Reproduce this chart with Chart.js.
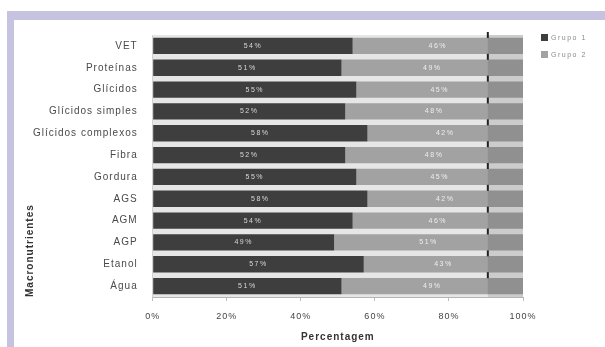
<!DOCTYPE html>
<html>
<head>
<meta charset="utf-8">
<script src="https://cdn.jsdelivr.net/npm/chart.js@4/dist/chart.umd.min.js"></script>
<style>
  html, body { margin: 0; padding: 0; background: #ffffff; }
  body { width: 605px; height: 347px; overflow: hidden; position: relative; }
  #frame {
    position: absolute; left: 7px; top: 11px; right: 0; bottom: 0;
    border-top: 9px solid #c6c3e0; border-left: 7px solid #c6c3e0;
    background: #ffffff;
  }
  #wrap { position: absolute; left: 0; top: 0; width: 591px; height: 327px; }
</style>
</head>
<body>
<div id="frame"><div id="wrap"><canvas id="c" width="591" height="327"></canvas></div></div>
<script>
// Macronutrient shares (%) for the two groups
const categories = ['VET', 'Proteínas', 'Glícidos', 'Glícidos simples', 'Glícidos complexos',
  'Fibra', 'Gordura', 'AGS', 'AGM', 'AGP', 'Etanol', 'Água'];
const grupo1 = [54, 51, 55, 52, 58, 52, 55, 58, 54, 49, 57, 51];
const grupo2 = [46, 49, 45, 48, 42, 48, 45, 42, 46, 51, 43, 49];
const seriesNames = ['Grupo 1', 'Grupo 2'];
const xTickValues = [0, 20, 40, 60, 80, 100];
const depthEdge = 90.5; // where the shaded back wall of the 3-D bars begins

const FONT = "'Liberation Sans', Arial, sans-serif";

// plot-area background, shaded back wall and small separators
const plotDecor = {
  id: 'plotDecor',
  beforeDraw(chart) {
    chart.ctx.letterSpacing = '1px';
  },
  beforeDatasetsDraw(chart) {
    const { ctx, chartArea: a } = chart;
    ctx.save();
    ctx.fillStyle = '#e6e6e6';
    ctx.fillRect(a.left, a.top, a.right - a.left, a.bottom - a.top);
    ctx.restore();
  },
  afterDatasetsDraw(chart) {
    const { ctx, chartArea: a } = chart;
    const xs = chart.scales.x, ys = chart.scales.y;
    const xe = xs.getPixelForValue(depthEdge);
    ctx.save();
    ctx.fillStyle = 'rgba(0,0,0,0.11)';
    ctx.fillRect(xe, a.top, a.right - xe, a.bottom - a.top);
    // separators in the gap above each bar
    const step = (a.bottom - a.top) / categories.length;
    ctx.fillStyle = '#222';
    categories.forEach((c, i) => {
      const yc = ys.getPixelForValue(i) - step / 2;
      ctx.fillRect(xe - 1, yc - 3, 2, 6);
    });
    // value labels inside segments
    ctx.letterSpacing = '1.5px';
    ctx.font = '7px ' + FONT;
    ctx.textAlign = 'center';
    ctx.textBaseline = 'middle';
    chart.data.datasets.forEach((ds, di) => {
      const meta = chart.getDatasetMeta(di);
      meta.data.forEach((bar, i) => {
        const p = bar.getProps(['x', 'y', 'base'], true);
        ctx.fillStyle = di === 0 ? '#d8d8d8' : '#eeeeee';
        ctx.fillText(ds.data[i] + '%', (p.x + p.base) / 2, p.y);
      });
    });
    ctx.restore();
  },
  afterDraw(chart) {
    // legend at the upper right
    const { ctx, chartArea: a } = chart;
    ctx.save();
    ctx.letterSpacing = '1.5px';
    ctx.font = '7px ' + FONT;
    ctx.textBaseline = 'middle';
    chart.data.datasets.forEach((ds, i) => {
      const y = a.top + 3 + i * 17;
      const x = a.right + 18;
      ctx.fillStyle = ds.backgroundColor;
      ctx.fillRect(x, y - 4, 7, 7);
      ctx.fillStyle = '#8a8a8a';
      ctx.fillText(ds.label, x + 10, y);
    });
    ctx.restore();
  }
};

new Chart(document.getElementById('c'), {
  type: 'bar',
  data: {
    labels: categories,
    datasets: [
      { label: seriesNames[0], data: grupo1, backgroundColor: '#3e3e3e', borderWidth: 0 },
      { label: seriesNames[1], data: grupo2, backgroundColor: '#a2a2a2', borderWidth: 0 }
    ]
  },
  options: {
    indexAxis: 'y',
    responsive: false,
    animation: false,
    devicePixelRatio: 1,
    layout: { padding: { top: 15, right: 82, bottom: 0, left: 0 } },
    datasets: { bar: { barPercentage: 0.75, categoryPercentage: 1 } },
    plugins: { legend: { display: false }, tooltip: { enabled: false } },
    scales: {
      x: {
        stacked: true, min: 0, max: 100,
        afterBuildTicks(s) { s.ticks = xTickValues.map(v => ({ value: v })); },
        afterFit(s) { s.height = 50; },
        grid: { drawOnChartArea: false, tickLength: 4, color: '#bdbdbd', tickColor: '#bdbdbd' },
        border: { color: '#b5b5b5' },
        ticks: { padding: 10, color: '#444', font: { family: FONT, size: 9 }, callback: v => v + '%' },
        title: { display: true, text: 'Percentagem', color: '#333', padding: { top: 0, bottom: 4 },
          font: { family: FONT, size: 10, weight: 'bold' } }
      },
      y: {
        stacked: true,
        afterFit(s) { s.width = 138.7; },
        grid: { display: false },
        border: { color: '#c8c8c8' },
        ticks: { padding: 7, color: '#4a4a4a', font: { family: FONT, size: 10 } },
        title: { display: true, text: 'Macronutrientes', align: 'start', color: '#333',
          padding: { top: 10, bottom: 0 }, font: { family: FONT, size: 10, weight: 'bold' } }
      }
    }
  },
  plugins: [plotDecor]
});
</script>
</body>
</html>
